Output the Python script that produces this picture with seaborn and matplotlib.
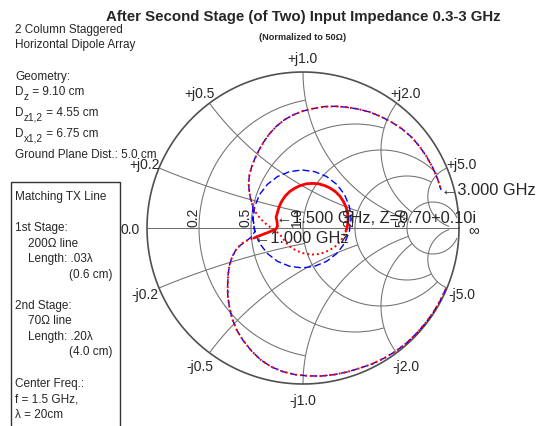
import numpy as np
import pandas as pd
import matplotlib
matplotlib.use("Agg")
import matplotlib.pyplot as plt
from matplotlib.patches import Rectangle
import seaborn as sns

# ---------------------------------------------------------------- data
title = "After Second Stage (of Two) Input Impedance 0.3-3 GHz"
subtitle = "(Normalized to 50\u03a9)"

# Smith grid: circle values and where each circle/arc stops
grid_values = [0.2, 0.5, 1.0, 2.0, 5.0]
grid_limits = [1.0, 2.0, 5.0, 5.0, 30.0]
r_tick_labels = ["0.2", "0.5", "1.0", "2.0", "5.0"]
x_tick_labels_pos = ["+j0.2", "+j0.5", "+j1.0", "+j2.0", "+j5.0"]
x_tick_labels_neg = ["-j0.2", "-j0.5", "-j1.0", "-j2.0", "-j5.0"]

# input reflection coefficient over the 0.3 -> 3 GHz sweep
s11_re = [0.916, 0.879, 0.834, 0.783, 0.726, 0.664, 0.595, 0.521, 0.444,
          0.363, 0.282, 0.200, 0.117, 0.033, -0.049, -0.129, -0.205, -0.274,
          -0.333, -0.384, -0.425, -0.454, -0.472, -0.482, -0.483, -0.480,
          -0.472, -0.454, -0.430, -0.401, -0.375, -0.342, -0.314, -0.285,
          -0.255, -0.225, -0.200, -0.176, -0.164, -0.166, -0.1724, -0.164,
          -0.153, -0.136, -0.114, -0.086, -0.053, -0.017, 0.021, 0.061,
          0.101, 0.139, 0.175, 0.208, 0.236, 0.258, 0.275, 0.286, 0.289,
          0.286, 0.275, 0.258, 0.236, 0.208, 0.175, 0.139, 0.101, 0.061,
          0.021, -0.017, -0.053, -0.086, -0.114, -0.136, -0.165, -0.200,
          -0.237, -0.272, -0.300, -0.322, -0.337, -0.345, -0.349, -0.343,
          -0.329, -0.310, -0.285, -0.255, -0.218, -0.174, -0.122, -0.063,
          0.000, 0.067, 0.137, 0.209, 0.282, 0.355, 0.429, 0.500, 0.569,
          0.635, 0.695, 0.747, 0.792, 0.831, 0.863, 0.885]
s11_im = [-0.389, -0.467, -0.542, -0.612, -0.677, -0.737, -0.790, -0.834,
          -0.871, -0.899, -0.923, -0.940, -0.949, -0.948, -0.940, -0.921,
          -0.889, -0.843, -0.785, -0.721, -0.654, -0.582, -0.506, -0.434,
          -0.364, -0.300, -0.241, -0.184, -0.140, -0.107, -0.087, -0.073,
          -0.064, -0.052, -0.040, -0.029, -0.018, -0.010, 0.010, 0.038,
          0.0690, 0.098, 0.136, 0.172, 0.205, 0.233, 0.255, 0.272, 0.283,
          0.286, 0.283, 0.272, 0.255, 0.233, 0.205, 0.172, 0.136, 0.098,
          0.058, 0.018, -0.020, -0.056, -0.089, -0.117, -0.139, -0.156,
          -0.167, -0.170, -0.167, -0.156, -0.139, -0.117, -0.089, -0.056,
          -0.028, -0.002, 0.026, 0.058, 0.095, 0.140, 0.190, 0.240, 0.292,
          0.343, 0.392, 0.442, 0.494, 0.547, 0.600, 0.649, 0.692, 0.725,
          0.750, 0.766, 0.778, 0.780, 0.774, 0.762, 0.743, 0.714, 0.678,
          0.635, 0.583, 0.523, 0.458, 0.388, 0.314, 0.244]
idx_1ghz, idx_1p5ghz, idx_2ghz, idx_3ghz = 32, 40, 60, 107

# second trace: same far-band locus, wider loop around the centre
alt_head, alt_tail = 29, 79
alt_loop_re = [-0.401, -0.365, -0.332, -0.309, -0.320, -0.309, -0.278,
               -0.228, -0.163, -0.087, -0.006, 0.075, 0.151, 0.216, 0.266,
               0.297, 0.308, 0.297, 0.266, 0.216, 0.151, 0.075, -0.006,
               -0.087, -0.163, -0.228, -0.278, -0.309, -0.320, -0.322]
alt_loop_im = [-0.110, -0.085, -0.058, -0.023, 0.058, 0.139, 0.215, 0.280,
               0.330, 0.361, 0.372, 0.361, 0.330, 0.280, 0.215, 0.139,
               0.058, -0.023, -0.099, -0.164, -0.214, -0.245, -0.256,
               -0.245, -0.214, -0.164, -0.099, -0.023, 0.058, 0.100]

# (main text, subscript, rest, baseline y in px)
left_notes = [("2 Column Staggered", "", "", 32.7),
              ("Horizontal Dipole Array", "", "", 47.7),
              ("Geometry:", "", "", 80.0),
              ("D", "z", " = 9.10 cm", 95.3),
              ("D", "z1,2", " = 4.55 cm", 116.3),
              ("D", "x1,2", " = 6.75 cm", 137.3),
              ("Ground Plane Dist.: 5.0 cm", "", "", 158.3)]
box_notes = [("Matching TX Line", 15, 0), ("1st Stage:", 15, 2),
             ("200\u03a9 line", 28, 3), ("Length: .03\u03bb", 28, 4),
             ("(0.6 cm)", 69, 5), ("2nd Stage:", 15, 7),
             ("70\u03a9 line", 28, 8), ("Length: .20\u03bb", 28, 9),
             ("(4.0 cm)", 69, 10), ("Center Freq.:", 15, 12),
             ("f = 1.5 GHz,", 15, 13), ("\u03bb = 20cm", 15, 14)]

# ---------------------------------------------------------------- style
sns.set_theme(style="white")
FONT = ["Liberation Sans", "DejaVu Sans"]
plt.rcParams["font.family"] = FONT

W, H, DPI = 540, 427, 100
CX, CY, RP = 303.0, 229.0, 156.0   # chart centre and radius in pixels

fig = plt.figure(figsize=(W / DPI, H / DPI), dpi=DPI)
fig.patch.set_facecolor("white")
ax = fig.add_axes([0, 0, 1, 1])
ax.set_xlim(-CX / RP, (W - CX) / RP)
ax.set_ylim(-(H - CY) / RP, CY / RP)
ax.set_axis_off()
renderer = fig.canvas.get_renderer()


def gamma(z):
    return (z - 1) / (z + 1)


def fpx(x, y):
    return x / W, 1 - y / H


# ---------------------------------------------------------------- grid
grid_kw = dict(color="#707070", lw=0.75, zorder=1, solid_capstyle="butt")
for v, lim in zip(grid_values, grid_limits):
    xs = np.linspace(-lim, lim, 4001)
    g = gamma(v + 1j * xs)
    ax.plot(g.real, g.imag, **grid_kw)
    rs = np.linspace(0, lim, 4001)
    for s in (1, -1):
        g = gamma(rs + 1j * s * v)
        ax.plot(g.real, g.imag, **grid_kw)
ax.plot([-1, 1], [0, 0], **grid_kw)
t = np.linspace(0, 2 * np.pi, 721)
ax.plot(np.cos(t), np.sin(t), color="#505050", lw=1.2, zorder=2)

# resistance labels, written upward just left of each crossing
for v, lab in zip(grid_values, r_tick_labels):
    gx = gamma(v)
    ax.text(gx - 1.5 / RP, 2 / RP, lab, rotation=90, rotation_mode="anchor",
            ha="left", va="baseline", fontsize=10, zorder=7)
ax.text(-1 - 7 / RP, -1 / RP, "0.0", ha="right", va="center", fontsize=10)
ax.text(1 + 9 / RP, -1 / RP, "\u221e", ha="left", va="center", fontsize=11)

# reactance labels around the rim
for v, lp, ln in zip(grid_values, x_tick_labels_pos, x_tick_labels_neg):
    for s, lab in ((1, lp), (-1, ln)):
        pos = gamma(1j * s * v) * 1.10
        ax.text(pos.real, pos.imag + s * 0.5 / RP * (s < 0) - 2 / RP * (s > 0),
                lab, ha="center", va="center", fontsize=10)

# ---------------------------------------------------------------- traces
sweep = pd.DataFrame({"re": s11_re, "im": s11_im})
alt = pd.concat([
    sweep.iloc[:alt_head],
    pd.DataFrame({"re": alt_loop_re, "im": alt_loop_im}),
    sweep.iloc[alt_tail:],
], ignore_index=True)
band = sweep.iloc[idx_1ghz:idx_2ghz + 1]

sns.lineplot(data=alt, x="re", y="im", sort=False, estimator=None,
             color="blue", lw=1.0, ax=ax, zorder=3)
ax.lines[-1].set_dashes([5, 2.4])
sns.lineplot(data=sweep, x="re", y="im", sort=False, estimator=None,
             color="red", lw=1.4, ax=ax, zorder=4)
ax.lines[-1].set_dashes([1, 1.5])
sns.lineplot(data=band, x="re", y="im", sort=False, estimator=None,
             color="red", lw=2.0, ax=ax, zorder=5)

# frequency markers
g15 = complex(s11_re[idx_1p5ghz], s11_im[idx_1p5ghz])
z15 = (1 + g15) / (1 - g15)
marks = [
    (idx_1ghz, "\u21901.000 GHz"),
    (idx_1p5ghz, "\u21901.500 GHz, Z=%.2f+%.2fi" % (z15.real, z15.imag)),
    (idx_3ghz, "\u21903.000 GHz"),
]
for i, txt in marks:
    ax.text(s11_re[i], s11_im[i], txt, ha="left", va="center",
            fontsize=11.8, zorder=8)

# ---------------------------------------------------------------- text
fig.text(*fpx(CX, 20.7), title, ha="center", va="baseline",
         fontsize=10.8, weight="bold")
fig.text(*fpx(CX, 40.5), subtitle, ha="center", va="baseline",
         fontsize=6.6, weight="bold")

for main, sub, rest, yb in left_notes:
    t1 = fig.text(*fpx(15, yb), main, ha="left", va="baseline", fontsize=8.5)
    if sub:
        x1 = t1.get_window_extent(renderer).x1
        t2 = fig.text(*fpx(x1 + 0.5, yb + 4.5), sub, ha="left",
                      va="baseline", fontsize=7.2)
        x2 = t2.get_window_extent(renderer).x1
        fig.text(*fpx(x2, yb), rest, ha="left", va="baseline", fontsize=8.5)

fig.add_artist(Rectangle(fpx(10.7, 440), (120 - 10.7) / W, (440 - 183.3) / H,
                         transform=fig.transFigure, fill=False,
                         edgecolor="#333333", lw=1.0))
for txt, x, k in box_notes:
    fig.text(*fpx(x, 200 + 15.55 * k), txt, ha="left", va="baseline",
             fontsize=8.5)

fig.savefig("out.png", dpi=DPI)
